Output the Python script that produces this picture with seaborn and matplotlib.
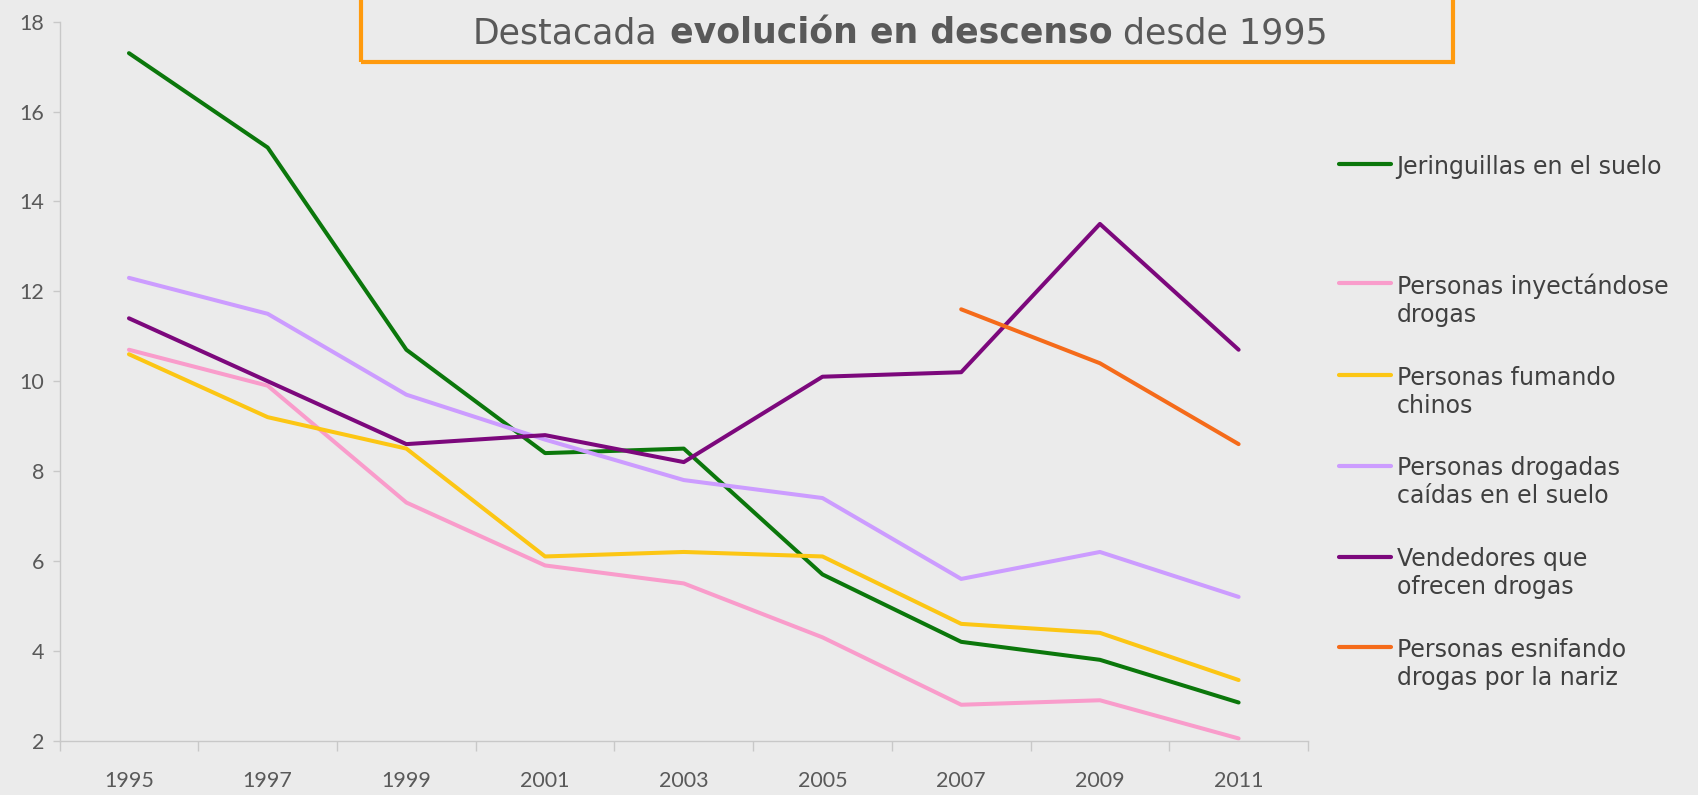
import matplotlib
matplotlib.use('Agg')
import matplotlib.pyplot as plt
import matplotlib.patches as mpatches
from matplotlib.offsetbox import HPacker
import seaborn as sns
import pandas as pd

years = [1995, 1997, 1999, 2001, 2003, 2005, 2007, 2009, 2011]
jeringuillas = [17.3, 15.2, 10.7, 8.4, 8.5, 5.7, 4.2, 3.8, 2.85]
inyectandose = [10.7, 9.9, 7.3, 5.9, 5.5, 4.3, 2.8, 2.9, 2.05]
fumando = [10.6, 9.2, 8.5, 6.1, 6.2, 6.1, 4.6, 4.4, 3.35]
caidas = [12.3, 11.5, 9.7, 8.7, 7.8, 7.4, 5.6, 6.2, 5.2]
vendedores = [11.4, 10.0, 8.6, 8.8, 8.2, 10.1, 10.2, 13.5, 10.7]
esnifando = [None, None, None, None, None, None, 11.6, 10.4, 8.6]

labels = ['Jeringuillas en el suelo\n\n',
          'Personas inyectándose\ndrogas',
          'Personas fumando\nchinos',
          'Personas drogadas\ncaídas en el suelo',
          'Vendedores que\nofrecen drogas',
          'Personas esnifando\ndrogas por la nariz']
colors = ['#0b770b', '#f99ccb', '#fcc614', '#cc9cff', '#7c087c', '#f56b1a']

series = [jeringuillas, inyectandose, fumando, caidas, vendedores, esnifando]
rows = []
for lab, vals in zip(labels, series):
    for yr, v in zip(years, vals):
        if v is not None:
            rows.append({'year': yr, 'value': v, 'serie': lab})
df = pd.DataFrame(rows)

bg = '#ebebeb'
txt = '#595959'
axcol = '#c8c8c8'

sns.set_style('white')
plt.rcParams['font.family'] = ['Lato', 'DejaVu Sans']

fig = plt.figure(figsize=(16.98, 7.95), dpi=100, facecolor=bg)
ax = fig.add_axes([0.0351, 0.0683, 0.7352, 0.9044])
ax.set_facecolor(bg)

sns.lineplot(data=df, x='year', y='value', hue='serie', hue_order=labels,
             palette=colors, linewidth=2.9, errorbar=None, ax=ax)

ax.set_xlim(1994, 2012)
ax.set_ylim(2, 18)
ax.set_xticks(range(1994, 2013, 2))
ax.set_xticklabels([])
ax.set_xticks(years, minor=True)
ax.set_xticklabels([str(y) for y in years], minor=True)
ax.set_yticks(range(2, 19, 2))
ax.tick_params(axis='x', which='major', bottom=True, length=7, width=1, color=axcol, direction='out')
ax.tick_params(axis='x', which='minor', bottom=True, length=0, pad=22, labelsize=15.5, labelcolor=txt)
ax.tick_params(axis='y', left=True, length=5, width=1, color=axcol, pad=6, labelsize=15.5, labelcolor=txt)
ax.set_xlabel('')
ax.set_ylabel('')
for s in ['top', 'right']:
    ax.spines[s].set_visible(False)
for s in ['left', 'bottom']:
    ax.spines[s].set_color(axcol)
    ax.spines[s].set_linewidth(1)

# legend on the right
old = ax.get_legend()
handles = old.legend_handles
labs = [t.get_text() for t in old.get_texts()]
old.remove()
leg = fig.legend(handles, labs, loc='upper left', bbox_to_anchor=(0.7815, 0.82),
                 frameon=False, prop={'family': 'DejaVu Sans', 'size': 17},
                 handlelength=2.2, handleheight=1.0,
                 handletextpad=0.25, labelspacing=1.65, borderpad=0, labelcolor='#404040')
for h in leg.legend_handles:
    h.set_linewidth(3)
for hp in leg.findobj(HPacker):
    hp.align = 'top'

# title box
fig.patches.append(mpatches.Rectangle((0.2124, 0.9224), 0.6433, 0.08, transform=fig.transFigure,
                                      fill=False, edgecolor='#ff9a0e', linewidth=3))
tfont = {'family': 'DejaVu Sans', 'size': 25, 'color': txt}
t1 = fig.text(0.2786, 0.9455, 'Destacada', va='baseline', ha='left', **tfont)
t2 = ax.annotate(' evolución en descenso', xy=(1, 0), xycoords=t1, va='bottom', ha='left',
                 fontweight='bold', annotation_clip=False, **tfont)
t3 = ax.annotate(' desde 1995', xy=(1, 0), xycoords=t2, va='bottom', ha='left',
                 annotation_clip=False, **tfont)

fig.savefig('out.png', dpi=100, facecolor=bg)
